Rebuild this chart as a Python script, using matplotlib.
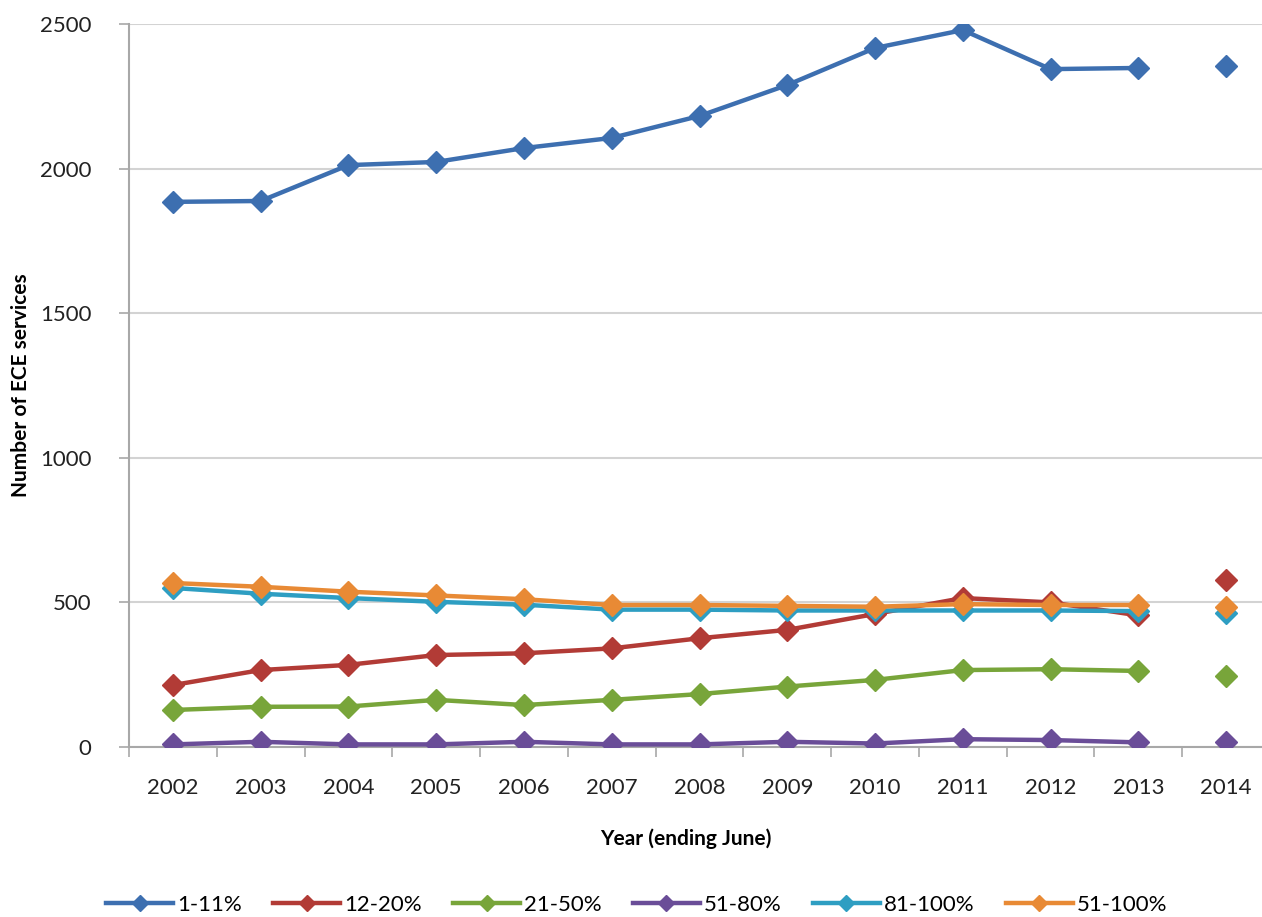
import numpy as np
import matplotlib
matplotlib.use("Agg")
import matplotlib.pyplot as plt
from matplotlib.lines import Line2D

years = ["2002", "2003", "2004", "2005", "2006", "2007", "2008",
         "2009", "2010", "2011", "2012", "2013", "2014"]

s_1_11 = [1885, 1888, 2012, 2023, 2071, 2106, 2182, 2289, 2417, 2479, 2344, 2348, 2355]
s_12_20 = [214, 266, 284, 318, 324, 341, 376, 405, 460, 515, 500, 455, 577]
s_21_50 = [128, 139, 140, 163, 145, 163, 183, 209, 232, 266, 269, 263, 246]
s_51_80 = [9, 18, 9, 9, 18, 9, 9, 18, 12, 27, 24, 16, 16]
s_81_100 = [550, 530, 515, 502, 492, 475, 475, 472, 472, 472, 472, 470, 465]
s_51_100 = [567, 554, 537, 524, 511, 491, 491, 488, 485, 494, 491, 491, 485]

labels = ["1-11%", "12-20%", "21-50%", "51-80%", "81-100%", "51-100%"]
colors = ["#3D6FB0", "#B23B36", "#78A53A", "#6A4D98", "#2E9EC2", "#E88A35"]
series = [s_1_11, s_12_20, s_21_50, s_51_80, s_81_100, s_51_100]

plt.rcParams['font.family'] = ['Lato', 'DejaVu Sans']

W, H = 1262, 917
fig = plt.figure(figsize=(W / 100, H / 100), dpi=100)
ax = fig.add_axes([129 / W, 1 - 747 / H, 1141 / W, 723 / H])

x = np.arange(len(years))
for vals, lab, col in zip(series, labels, colors):
    v = np.array(vals, dtype=float)
    # 2002-2013 joined by a line, 2014 shown as a separate point
    ax.plot(x[:-1], v[:-1], color=col, lw=3.2, marker='D', ms=11,
            mec=col, mfc=col, solid_joinstyle='round', zorder=3)
    ax.plot(x[-1:], v[-1:], ls='none', marker='D', ms=11, color=col, zorder=3)

ax.set_xlim(-0.5, len(years) - 0.5)
ax.set_ylim(0, 2500)
ax.set_yticks(np.arange(0, 2501, 500))
ax.set_xticks(x)
ax.set_xticklabels(years)
ax.set_xticks(np.arange(-0.5, len(years) + 0.5, 1), minor=True)
ax.tick_params(axis='x', which='major', length=0, labelsize=16, pad=22, colors='#222222')
ax.tick_params(axis='x', which='minor', length=7, color='#A8A8A8', width=1.2)
ax.tick_params(axis='y', which='major', length=7, color='#A8A8A8', width=1.2,
               labelsize=16, pad=20, labelcolor='#222222')

ax.grid(axis='y', color='#D3D3D3', lw=1.5)
ax.set_axisbelow(True)
for side in ['top', 'right']:
    ax.spines[side].set_visible(False)
for side in ['left', 'bottom']:
    ax.spines[side].set_color('#A8A8A8')
    ax.spines[side].set_linewidth(1.5)

ax.set_ylabel("Number of ECE services", fontsize=15, fontweight='bold')
ax.yaxis.set_label_coords((31 - 129) / 1141, 0.5)
ax.set_xlabel("Year (ending June)", fontsize=15, fontweight='bold')
ax.xaxis.set_label_coords((686 - 129) / 1141, -(828 - 747) / 723)

handles = [Line2D([], [], color=c, lw=3.2, marker='D', ms=8, mec=c, mfc=c) for c in colors]
fig.legend(handles=handles, labels=labels, loc='center', ncol=6,
           bbox_to_anchor=(637 / W, 1 - 905 / H), frameon=False, fontsize=16,
           handlelength=3.0, columnspacing=1.4, handletextpad=0.2)

fig.savefig("out.png", dpi=100)
